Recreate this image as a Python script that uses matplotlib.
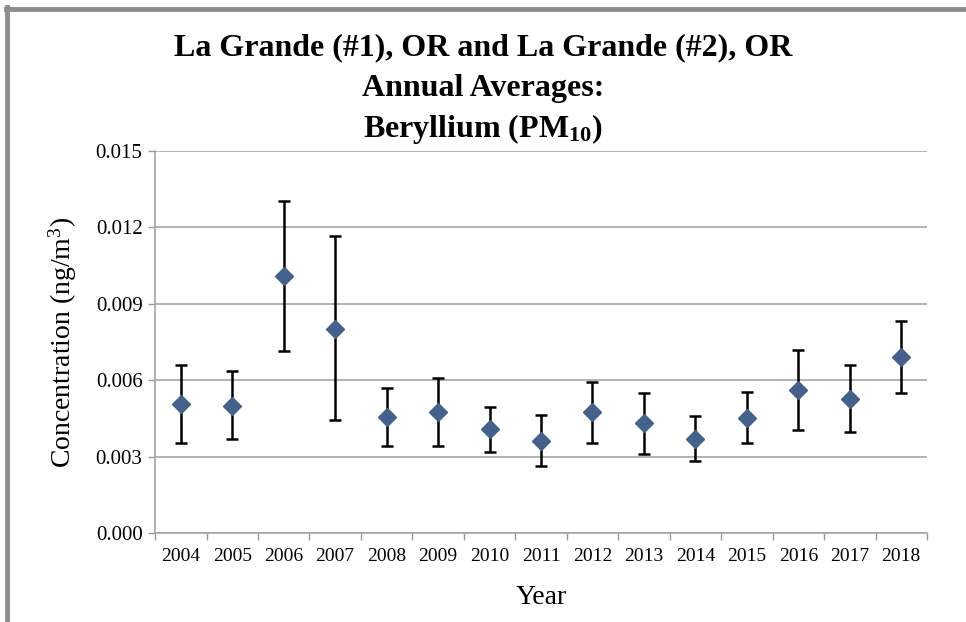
import matplotlib
matplotlib.use('Agg')
from matplotlib import pyplot as plt
from matplotlib.lines import Line2D

years = ['2004', '2005', '2006', '2007', '2008', '2009', '2010', '2011',
         '2012', '2013', '2014', '2015', '2016', '2017', '2018']
means = [0.00506, 0.00500, 0.01008, 0.00803, 0.00456, 0.00476, 0.00407, 0.00361,
         0.00476, 0.00431, 0.00370, 0.00451, 0.00561, 0.00525, 0.00691]
upper = [0.00659, 0.00636, 0.01303, 0.01167, 0.00570, 0.00608, 0.00494, 0.00463,
         0.00593, 0.00548, 0.00459, 0.00553, 0.00720, 0.00659, 0.00831]
lower = [0.00352, 0.00369, 0.00715, 0.00443, 0.00342, 0.00342, 0.00318, 0.00265,
         0.00354, 0.00309, 0.00284, 0.00354, 0.00403, 0.00397, 0.00548]
yticks = [0.000, 0.003, 0.006, 0.009, 0.012, 0.015]

plt.rcParams['font.family'] = ['Liberation Serif', 'DejaVu Serif']
plt.rcParams['mathtext.fontset'] = 'custom'
plt.rcParams['mathtext.rm'] = 'Liberation Serif'
plt.rcParams['mathtext.it'] = 'Liberation Serif:italic'
plt.rcParams['mathtext.bf'] = 'Liberation Serif:bold'

fig = plt.figure(figsize=(9.66, 6.22), dpi=100)
ax = fig.add_axes([0.1605, 0.1431, 0.7991, 0.6141])

x = list(range(len(years)))
err_lo = [m - l for m, l in zip(means, lower)]
err_hi = [u - m for m, u in zip(means, upper)]
ax.errorbar(x, means, yerr=[err_lo, err_hi], fmt='none', ecolor='black',
            elinewidth=1.8, capsize=4.5, capthick=1.8, zorder=3)
ax.plot(x, means, linestyle='none', marker='D', markersize=9.5,
        color='#44618C', zorder=4)

ax.set_xlim(-0.5, len(years) - 0.5)
ax.set_ylim(0, 0.015)
ax.set_yticks(yticks)
ax.set_yticklabels(['%.3f' % v for v in yticks])
ax.set_xticks(x)
ax.set_xticklabels(years)
ax.set_xticks([i - 0.5 for i in range(len(years) + 1)], minor=True)
ax.tick_params(axis='x', which='major', length=0, pad=11, labelsize=14)
ax.tick_params(axis='x', which='minor', length=5, color='#999999', width=1)
ax.tick_params(axis='y', length=5, color='#999999', width=1, labelsize=15, pad=4)
ax.yaxis.grid(True, color='#a6a6a6', linewidth=1.2)
ax.set_axisbelow(True)
for s in ['top', 'right']:
    ax.spines[s].set_visible(False)
for s in ['left', 'bottom']:
    ax.spines[s].set_color('#a6a6a6')
    ax.spines[s].set_linewidth(1.2)

ax.set_ylabel('Concentration (ng/m$^3$)', fontsize=20, labelpad=12)
ax.set_xlabel('Year', fontsize=20, labelpad=14)

fig.text(0.5, 0.923, 'La Grande (#1), OR and La Grande (#2), OR', ha='center',
         va='center', fontsize=23, fontweight='bold')
fig.text(0.5, 0.858, 'Annual Averages:', ha='center', va='center',
         fontsize=23, fontweight='bold')
fig.text(0.5, 0.793, r'Beryllium (PM$_{\mathbf{10}}$)', ha='center', va='center',
         fontsize=23, fontweight='bold')

# grey frame on top and left edge
fig.add_artist(Line2D([0.006, 1.0], [0.985, 0.985], color='#8c8c8c',
                      linewidth=3.5, transform=fig.transFigure))
fig.add_artist(Line2D([0.0075, 0.0075], [0.0, 0.988], color='#8c8c8c',
                      linewidth=3.5, transform=fig.transFigure))

fig.savefig('out.png', dpi=100)
